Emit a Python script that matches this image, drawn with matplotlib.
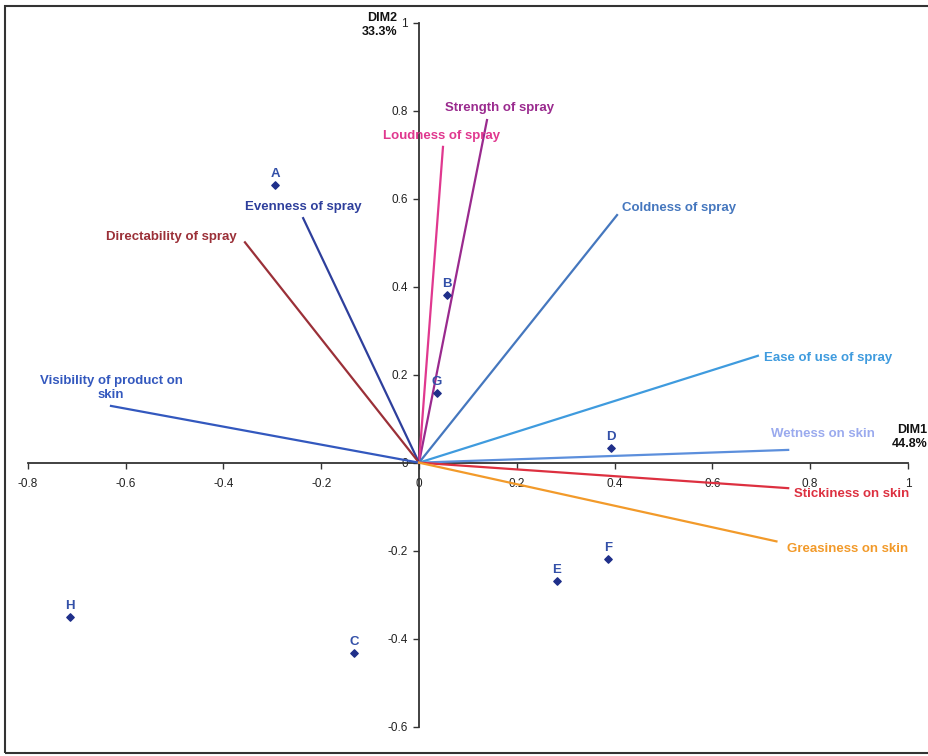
import matplotlib
matplotlib.use("Agg")
import matplotlib.pyplot as plt
from matplotlib.patches import Rectangle

plt.rcParams["font.family"] = ["Liberation Sans", "DejaVu Sans"]

# product scores on the two dimensions
samples = ["A", "B", "C", "D", "E", "F", "G", "H"]
dim1 = [-0.294, 0.057, -0.133, 0.393, 0.282, 0.387, 0.037, -0.714]
dim2 = [0.631, 0.381, -0.432, 0.033, -0.269, -0.219, 0.159, -0.351]

# attribute loadings
attributes = ["Strength of spray", "Loudness of spray", "Evenness of spray",
              "Directability of spray", "Coldness of spray",
              "Visibility of product on\nskin", "Ease of use of spray",
              "Wetness on skin", "Stickiness on skin", "Greasiness on skin"]
att_dim1 = [0.139, 0.049, -0.237, -0.356, 0.405, -0.630, 0.693, 0.755, 0.755, 0.731]
att_dim2 = [0.779, 0.718, 0.556, 0.501, 0.563, 0.129, 0.243, 0.029, -0.058, -0.179]

x_ticks = [-0.8, -0.6, -0.4, -0.2, 0, 0.2, 0.4, 0.6, 0.8, 1]
x_tick_labels = ["-0.8", "-0.6", "-0.4", "-0.2", "0", "0.2", "0.4", "0.6", "0.8", "1"]
y_ticks = [-0.6, -0.4, -0.2, 0, 0.2, 0.4, 0.6, 0.8, 1]
y_tick_labels = ["-0.6", "-0.4", "-0.2", "0", "0.2", "0.4", "0.6", "0.8", "1"]

att_colors = ["#9A2A8E", "#E0388F", "#2E3F9C", "#9B3038", "#4577BE",
              "#3358BE", "#3F9BDE", "#5C8FDC", "#DD3040", "#F29A2A"]
att_text_colors = ["#9A2A8E", "#E0388F", "#2E3F9C", "#9B3038", "#4577BE",
                   "#3358BE", "#3F9BDE", "#9AAAEE", "#DD3040", "#F29A2A"]
# label placement: (dx, dy) in pixels, horizontal alignment
att_offsets = [(13, 12, "center"), (-1, 11, "center"), (0, 11, "center"),
               (-8, 5, "right"), (5, 7, "left"), (0, 18, "center"),
               (6, -2, "left"), (-17, 16, "left"), (6, -6, "left"), (11, -8, "left")]

fig = plt.figure(figsize=(9.29, 7.56), dpi=100)
ax = fig.add_axes([0, 0, 1, 1])
ax.set_xlim(-0.857, 1.043)
ax.set_ylim(-0.667, 1.052)
ax.patch.set_alpha(0)

for s in ["top", "right"]:
    ax.spines[s].set_visible(False)
ax.spines["left"].set_position(("data", 0))
ax.spines["bottom"].set_position(("data", 0))
ax.spines["left"].set_bounds(-0.6, 1)
ax.spines["bottom"].set_bounds(-0.8, 1)
for s in ["left", "bottom"]:
    ax.spines[s].set_color("#333333")
    ax.spines[s].set_linewidth(1.3)

ax.set_xticks(x_ticks)
ax.set_xticklabels(x_tick_labels)
ax.set_yticks(y_ticks)
ax.set_yticklabels(y_tick_labels)
ax.tick_params(direction="out", length=4, width=1, color="#333333",
               labelsize=8.5, labelcolor="#222222", pad=4)
ax.tick_params(axis="x", pad=7)

# attribute vectors
for i, name in enumerate(attributes):
    ax.plot([0, att_dim1[i]], [0, att_dim2[i]], color=att_colors[i], lw=1.6,
            zorder=3)
    dx, dy, ha = att_offsets[i]
    ax.annotate(name, (att_dim1[i], att_dim2[i]), xytext=(dx, dy),
                textcoords="offset pixels", ha=ha, va="center",
                multialignment="center", fontsize=9.5, fontweight="bold",
                color=att_text_colors[i], zorder=4)

# products
ax.scatter(dim1, dim2, marker="D", s=14, color="#1F2F8A", zorder=5)
for i, s in enumerate(samples):
    ax.annotate(s, (dim1[i], dim2[i]), xytext=(0, 5), textcoords="offset pixels",
                ha="center", va="bottom", fontsize=9.5, fontweight="bold",
                color="#3350A8", zorder=5)

fig.text(397 / 929, 1 - 25 / 756, "DIM2\n33.3%", ha="right", va="center",
         multialignment="right", fontsize=9, fontweight="bold", color="#111111")
fig.text(892 / 929, 1 - 437 / 756, "DIM1\n44.8%", ha="left", va="center",
         multialignment="right", fontsize=9, fontweight="bold", color="#111111")

# plot area frame
fig.patches.append(Rectangle((5 / 929, 3 / 756), 0.999, 1 - 9 / 756,
                             transform=fig.transFigure, fill=False,
                             edgecolor="#333333", linewidth=1.5))

fig.savefig("out.png", dpi=100)
